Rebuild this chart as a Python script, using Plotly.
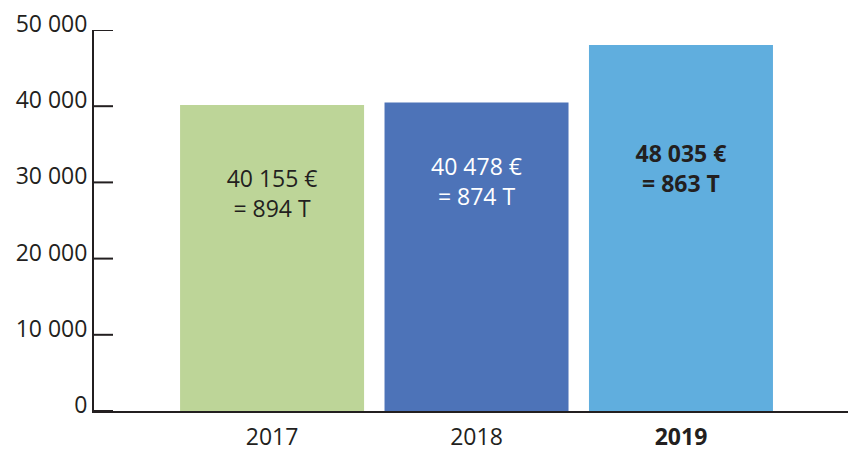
import plotly.graph_objects as go

years = ["2017", "2018", "2019"]
values = [40155, 40478, 48035]
tonnes = [894, 874, 863]
bar_colors = ["#BDD598", "#4D73B8", "#60AEDE"]
label_colors = ["#231F20", "#FFFFFF", "#231F20"]
label_bold = [False, False, True]
label_y = [28200, 29800, 31500]
ytick_vals = [0, 10000, 20000, 30000, 40000, 50000]
ytick_text = ["0", "10 000", "20 000", "30 000", "40 000", "50 000"]
xtick_text = ["2017", "2018", "<b>2019</b>"]

FONT = "Open Sans"
DARK = "#231F20"
FS = 23
PLOT_W = 850 - 94 - 2
TICK_LEN = 19


def fmt(n):
    return f"{n:,}".replace(",", " ")


def label(v, t, b):
    a, c = f"{fmt(v)} €", f"= {t} T"
    if b:
        return f"<b>{a}</b><br><b>{c}</b>"
    return f"{a}<br>{c}"


fig = go.Figure()
fig.add_trace(go.Bar(
    x=years, y=values, marker=dict(color=bar_colors, line=dict(width=0)),
    hoverinfo="skip", showlegend=False,
))
fig.add_trace(go.Scatter(
    x=years, y=label_y, mode="text",
    text=[label(v, t, b) for v, t, b in zip(values, tonnes, label_bold)],
    textposition="middle center",
    textfont=dict(family=FONT, size=FS, color=label_colors),
    hoverinfo="skip", showlegend=False,
))

# y-axis tick marks drawn inward from the axis line
for v in ytick_vals:
    fig.add_shape(
        type="line", xref="paper", yref="y",
        x0=0, x1=TICK_LEN / PLOT_W, y0=v, y1=v,
        line=dict(color=DARK, width=2), layer="above",
    )

fig.update_layout(
    width=850, height=451,
    margin=dict(l=94, r=2, t=30, b=40, autoexpand=False),
    paper_bgcolor="white", plot_bgcolor="white",
    bargap=0.1,
    font=dict(family=FONT, size=FS, color=DARK),
)
fig.update_xaxes(
    type="category", range=[-0.871, 2.817],
    tickvals=years, ticktext=xtick_text,
    showline=True, linecolor=DARK, linewidth=2,
    ticks="", showgrid=False, zeroline=False,
    ticklabelstandoff=4, automargin=False,
    tickfont=dict(family=FONT, size=FS, color=DARK),
)
fig.update_yaxes(
    range=[0, 50000], tickvals=ytick_vals, ticktext=ytick_text,
    showline=True, linecolor=DARK, linewidth=2,
    ticks="", showgrid=False, zeroline=False, automargin=False,
    ticklabelshift=-6,
    tickfont=dict(family=FONT, size=FS, color=DARK),
)

fig.write_html(
    "out.html",
    config={"displayModeBar": False},
    post_script="document.body.style.margin='0';document.body.style.overflow='hidden';",
)
